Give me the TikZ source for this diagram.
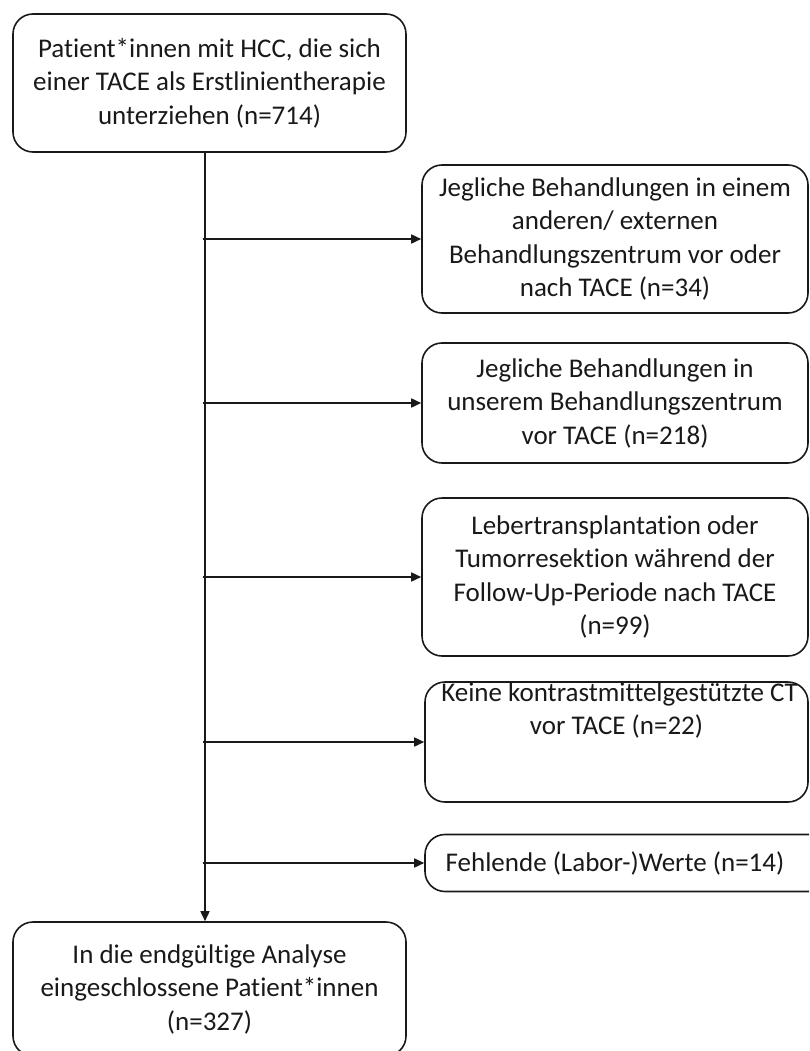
\documentclass[tikz,border=0pt]{standalone}
\usepackage{fontspec}
\setmainfont{Carlito}[Ligatures=CommonOff]
\usetikzlibrary{arrows.meta}
\begin{document}
\begin{tikzpicture}[x=1pt,y=-1pt,
  box/.style={draw=black!90, line width=1.6pt, rounded corners=20pt,
    rectangle, inner sep=0pt, align=center,
    font=\fontsize{27}{33.5}\selectfont, text=black!90},
  txt/.style={inner sep=0pt, align=center,
    font=\fontsize{27}{33.5}\selectfont, text=black!90},
  arr/.style={draw=black!90, line width=1.6pt,
    -{Triangle[length=10pt,width=9pt]}}
]
\useasboundingbox (0,0) rectangle (809,1051);
\clip (0,0) rectangle (809,1051);

% main column
\node[box, minimum width=393pt, minimum height=138pt] (start) at (209.5,83)
  {Patient*innen mit HCC, die sich\\einer TACE als Erstlinientherapie\\unterziehen (n=714)};
\node[box, minimum width=393pt, minimum height=134pt] (final) at (209.5,989)
  {In die endgültige Analyse\\eingeschlossene Patient*innen\\(n=327)};

% exclusion boxes
\node[box, minimum width=386pt, minimum height=148pt] (ex1) at (615,239)
  {Jegliche Behandlungen in einem\\anderen/ externen\\Behandlungszentrum vor oder\\nach TACE (n=34)};
\node[box, minimum width=386pt, minimum height=120pt] (ex2) at (615,403)
  {Jegliche Behandlungen in\\unserem Behandlungszentrum\\vor TACE (n=218)};
\node[box, minimum width=386pt, minimum height=158pt] (ex3) at (615,577)
  {Lebertransplantation oder\\Tumorresektion während der\\Follow-Up-Periode nach TACE\\(n=99)};
\node[box, minimum width=383pt, minimum height=120pt] (ex4) at (616.5,742)
  {\hspace*{6pt}Keine kontrastmittelgestützte CT\\vor TACE (n=22)\\[33pt]};
\node[box, minimum width=405pt, minimum height=57pt] (ex5) at (627.5,863) {};
\node[txt] (ex5t) at (615,863) {Fehlende (Labor-)Werte (n=14)};

% trunk
\coordinate (trunk) at (205,0);
\draw[arr] (start.south -| trunk) -- (final.north -| trunk);

% branches to the exclusion boxes
\foreach \b in {ex1,ex2,ex3,ex4,ex5}
  \draw[arr] ([xshift=-2pt]\b.west -| trunk) -- (\b.west);
\end{tikzpicture}
\end{document}
